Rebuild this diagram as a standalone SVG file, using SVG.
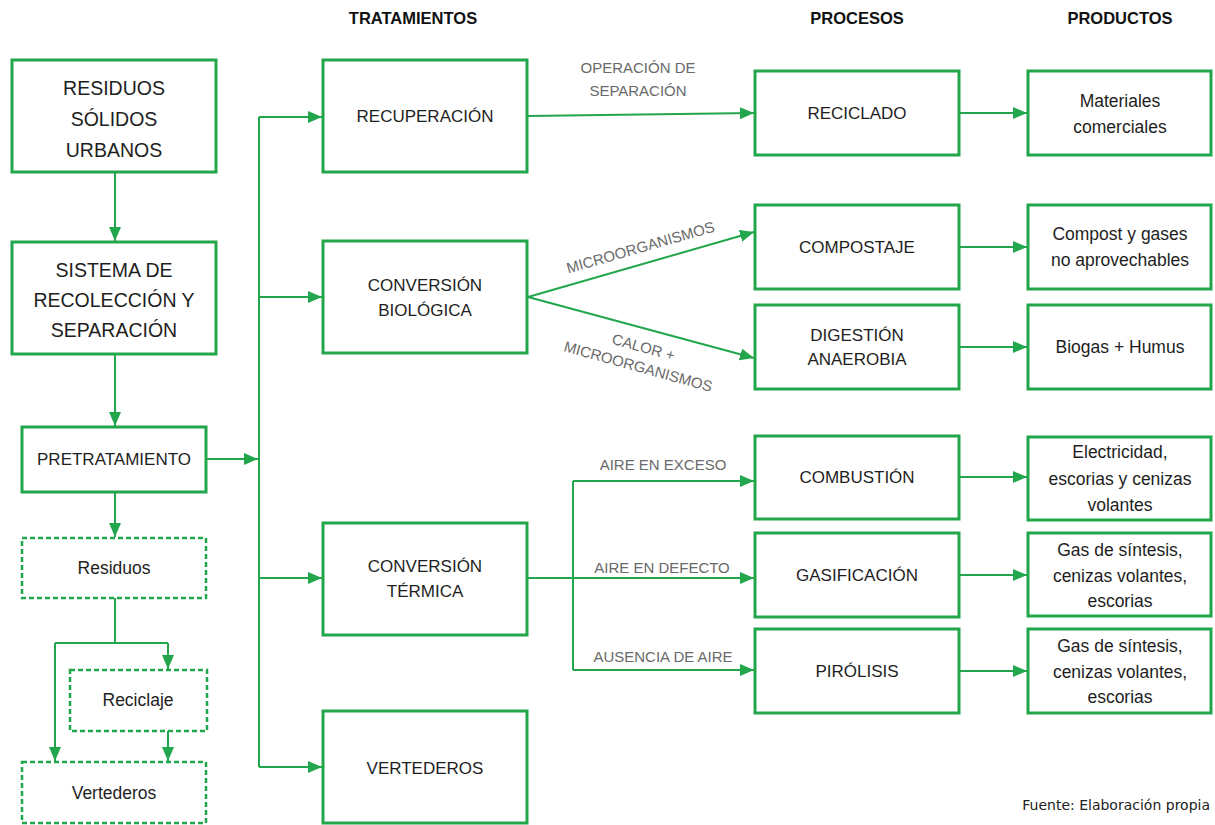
<svg xmlns="http://www.w3.org/2000/svg" width="1215" height="825" viewBox="0 0 1215 825">
<style>
.box{fill:#fff;stroke:#22a64b;stroke-width:3}
.dbox{fill:#fff;stroke:#22a64b;stroke-width:2.5;stroke-dasharray:5 3}
.c{fill:none;stroke:#22a64b;stroke-width:2}
.t{font-family:"Liberation Sans",Arial,sans-serif;fill:#1e1e1e;text-anchor:middle}
.big{font-size:19.5px}
.mid{font-size:17px}
.prod{font-size:17.5px}
.h{font-family:"Liberation Sans",Arial,sans-serif;font-weight:bold;font-size:16.5px;fill:#111;text-anchor:middle}
.g{font-family:"Liberation Sans",Arial,sans-serif;font-size:15px;fill:#6a6a6a;text-anchor:middle}
</style>
<defs>
<marker id="ah" markerUnits="userSpaceOnUse" markerWidth="15" markerHeight="13" refX="14" refY="6" orient="auto">
<path d="M0,0 L14,6 L0,12 z" fill="#22a64b"/>
</marker>
</defs>

<text class="h" x="413" y="24">TRATAMIENTOS</text>
<text class="h" x="857" y="24">PROCESOS</text>
<text class="h" x="1120" y="24">PRODUCTOS</text>

<g id="connectors">
<path class="c" d="M115,172 V241" marker-end="url(#ah)"/>
<path class="c" d="M115,354 V426" marker-end="url(#ah)"/>
<path class="c" d="M206,459 H258" marker-end="url(#ah)"/>
<path class="c" d="M259,117 V767"/>
<path class="c" d="M259,117 H322" marker-end="url(#ah)"/>
<path class="c" d="M259,297 H322" marker-end="url(#ah)"/>
<path class="c" d="M259,578 H322" marker-end="url(#ah)"/>
<path class="c" d="M259,767 H322" marker-end="url(#ah)"/>
<path class="c" d="M115,492 V537" marker-end="url(#ah)"/>
<path class="c" d="M115,598 V643 M55,643 H168"/>
<path class="c" d="M168,643 V669" marker-end="url(#ah)"/>
<path class="c" d="M55,643 V761" marker-end="url(#ah)"/>
<path class="c" d="M168,731 V761" marker-end="url(#ah)"/>
<path class="c" d="M527,116 L754,113" marker-end="url(#ah)"/>
<path class="c" d="M528,297 L754,232" marker-end="url(#ah)"/>
<path class="c" d="M528,297 L754,358" marker-end="url(#ah)"/>
<path class="c" d="M527,578 H754" marker-end="url(#ah)"/>
<path class="c" d="M573,481 V670"/>
<path class="c" d="M573,481 H754" marker-end="url(#ah)"/>
<path class="c" d="M573,670 H754" marker-end="url(#ah)"/>
<path class="c" d="M959,113 H1027" marker-end="url(#ah)"/>
<path class="c" d="M959,247 H1027" marker-end="url(#ah)"/>
<path class="c" d="M959,347 H1027" marker-end="url(#ah)"/>
<path class="c" d="M959,477 H1027" marker-end="url(#ah)"/>
<path class="c" d="M959,575 H1027" marker-end="url(#ah)"/>
<path class="c" d="M959,671 H1027" marker-end="url(#ah)"/>
</g>

<g id="labels">
<text class="g" x="638" y="73">OPERACIÓN DE</text>
<text class="g" x="638" y="96">SEPARACIÓN</text>
<g transform="translate(645,263) rotate(-16)"><text class="g" x="0" y="-11">MICROORGANISMOS</text></g>
<g transform="translate(648,331) rotate(15.5)"><text class="g" x="0" y="22">CALOR +</text><text class="g" x="0" y="42">MICROORGANISMOS</text></g>
<text class="g" x="663" y="470">AIRE EN EXCESO</text>
<text class="g" x="662" y="573">AIRE EN DEFECTO</text>
<text class="g" x="663" y="662">AUSENCIA DE AIRE</text>
</g>

<g id="rsu"><rect class="box" x="12" y="60" width="204" height="112"/>
<text class="t big" x="114" y="95">RESIDUOS</text><text class="t big" x="114" y="126">SÓLIDOS</text><text class="t big" x="114" y="157">URBANOS</text></g>
<g id="sistema"><rect class="box" x="12" y="242" width="204" height="112"/>
<text class="t big" x="114" y="277">SISTEMA DE</text><text class="t big" x="114" y="307">RECOLECCIÓN Y</text><text class="t big" x="114" y="337">SEPARACIÓN</text></g>
<g id="pretratamiento"><rect class="box" x="22" y="427" width="184" height="65"/>
<text class="t mid" x="114" y="465">PRETRATAMIENTO</text></g>
<g id="residuos"><rect class="dbox" x="22" y="538" width="184" height="60"/>
<text class="t prod" x="114" y="574">Residuos</text></g>
<g id="reciclaje"><rect class="dbox" x="70" y="670" width="137" height="61"/>
<text class="t prod" x="138" y="706">Reciclaje</text></g>
<g id="vertederos-res"><rect class="dbox" x="22" y="762" width="184" height="61"/>
<text class="t prod" x="114" y="799">Vertederos</text></g>

<g id="recuperacion"><rect class="box" x="323" y="60" width="204" height="112"/>
<text class="t mid" x="425" y="122">RECUPERACIÓN</text></g>
<g id="conv-bio"><rect class="box" x="323" y="241" width="204" height="112"/>
<text class="t mid" x="425" y="291">CONVERSIÓN</text><text class="t mid" x="425" y="316">BIOLÓGICA</text></g>
<g id="conv-term"><rect class="box" x="323" y="523" width="204" height="112"/>
<text class="t mid" x="425" y="572">CONVERSIÓN</text><text class="t mid" x="425" y="597">TÉRMICA</text></g>
<g id="vertederos"><rect class="box" x="323" y="711" width="204" height="112"/>
<text class="t mid" x="425" y="774">VERTEDEROS</text></g>

<g id="reciclado"><rect class="box" x="755" y="71" width="204" height="84"/>
<text class="t mid" x="857" y="119">RECICLADO</text></g>
<g id="compostaje"><rect class="box" x="755" y="205" width="204" height="84"/>
<text class="t mid" x="857" y="253">COMPOSTAJE</text></g>
<g id="digestion"><rect class="box" x="755" y="305" width="204" height="84"/>
<text class="t mid" x="857" y="341">DIGESTIÓN</text><text class="t mid" x="857" y="365">ANAEROBIA</text></g>
<g id="combustion"><rect class="box" x="755" y="436" width="204" height="83"/>
<text class="t mid" x="857" y="483">COMBUSTIÓN</text></g>
<g id="gasificacion"><rect class="box" x="755" y="533" width="204" height="84"/>
<text class="t mid" x="857" y="581">GASIFICACIÓN</text></g>
<g id="pirolisis"><rect class="box" x="755" y="629" width="204" height="84"/>
<text class="t mid" x="857" y="677">PIRÓLISIS</text></g>

<g id="materiales"><rect class="box" x="1028" y="71" width="183" height="84"/>
<text class="t prod" x="1120" y="107">Materiales</text><text class="t prod" x="1120" y="133">comerciales</text></g>
<g id="compost"><rect class="box" x="1028" y="205" width="183" height="84"/>
<text class="t prod" x="1120" y="240">Compost y gases</text><text class="t prod" x="1120" y="266">no aprovechables</text></g>
<g id="biogas"><rect class="box" x="1028" y="305" width="183" height="84"/>
<text class="t prod" x="1120" y="353">Biogas + Humus</text></g>
<g id="electricidad"><rect class="box" x="1028" y="437" width="183" height="83"/>
<text class="t prod" x="1120" y="458">Electricidad,</text><text class="t prod" x="1120" y="485">escorias y cenizas</text><text class="t prod" x="1120" y="511">volantes</text></g>
<g id="gas1"><rect class="box" x="1028" y="533" width="183" height="83"/>
<text class="t prod" x="1120" y="556">Gas de síntesis,</text><text class="t prod" x="1120" y="582">cenizas volantes,</text><text class="t prod" x="1120" y="607">escorias</text></g>
<g id="gas2"><rect class="box" x="1028" y="629" width="183" height="84"/>
<text class="t prod" x="1120" y="652">Gas de síntesis,</text><text class="t prod" x="1120" y="678">cenizas volantes,</text><text class="t prod" x="1120" y="703">escorias</text></g>

<text x="1210" y="810" style="font-family:'DejaVu Sans',Verdana,sans-serif;font-size:14px;fill:#222;text-anchor:end">Fuente: Elaboración propia</text>
</svg>
